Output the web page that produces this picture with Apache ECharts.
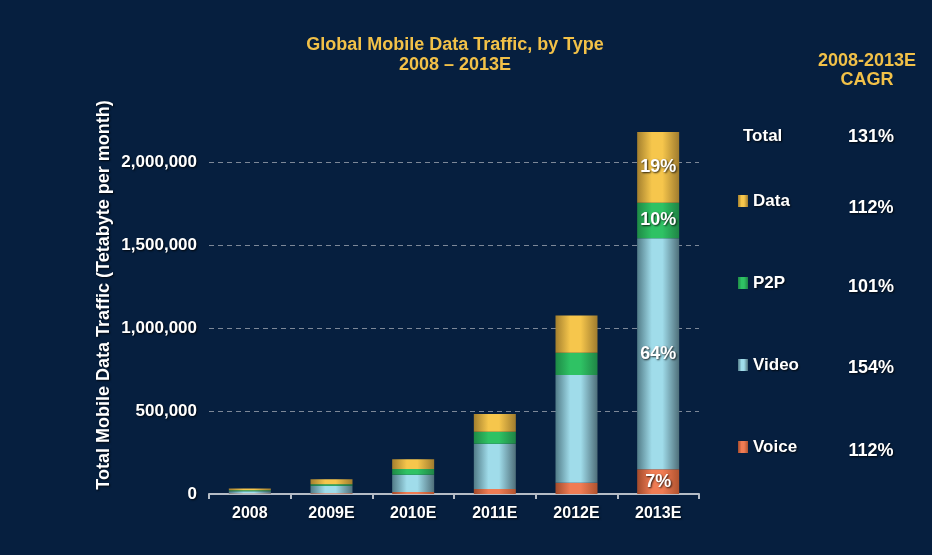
<!DOCTYPE html>
<html><head><meta charset="utf-8">
<script src="https://cdn.jsdelivr.net/npm/echarts@6/dist/echarts.min.js"></script>
<style>html,body{margin:0;padding:0;background:#061f3f;}#c{width:932px;height:555px;}</style>
</head><body><div id="c"></div>
<script>
const categories = ['2008', '2009E', '2010E', '2011E', '2012E', '2013E'];
const voice = [3500, 5000, 12000, 30000, 68000, 149000];
const video = [13000, 44000, 104000, 273000, 649000, 1392000];
const p2p = [6500, 10000, 34000, 72000, 134000, 214000];
const dataT = [10000, 30000, 60000, 107000, 225000, 426000];
const voiceLabels = ['', '', '', '', '', '7%'];
const videoLabels = ['', '', '', '', '', '64%'];
const p2pLabels = ['', '', '', '', '', '10%'];
const dataLabels = ['', '', '', '', '', '19%'];
const yTicks = [0, 500000, 1000000, 1500000, 2000000];
const cagrNames = ['Total', 'Data', 'P2P', 'Video', 'Voice'];
const cagrValues = ['131%', '112%', '101%', '154%', '112%'];

const FONT = '"Liberation Sans", Arial, sans-serif';
const GOLD = '#f2c148';
const SH = {textShadowColor: 'rgba(0,0,0,0.8)', textShadowBlur: 2, textShadowOffsetX: 1, textShadowOffsetY: 1};
function cyl(edgeL, mid, edgeR) {
  return new echarts.graphic.LinearGradient(0, 0, 1, 0, [
    {offset: 0, color: edgeL}, {offset: 0.35, color: mid},
    {offset: 0.6, color: mid}, {offset: 1, color: edgeR}]);
}
const lbl = (arr) => Object.assign({
  show: true, position: 'inside', color: '#fff', fontFamily: FONT, fontWeight: 'bold', fontSize: 18,
  formatter: p => arr[p.dataIndex]
}, SH);
const chart = echarts.init(document.getElementById('c'), null, {renderer: 'canvas'});
const cagrY = [137, 208, 287, 368, 451];
const txt = (x, y, text, fill, size, align, extra) => ({type: 'text', x: x, y: y,
  style: Object.assign({text: text, fill: fill, font: 'bold ' + size + 'px ' + FONT, textAlign: align, textVerticalAlign: 'middle'}, extra || {})});
const graphics = [
  txt(455, 45, 'Global Mobile Data Traffic, by Type', GOLD, 18, 'center'),
  txt(455, 65, '2008 \u2013 2013E', GOLD, 18, 'center'),
  txt(867, 61, '2008-2013E', GOLD, 18, 'center'),
  txt(867, 80, 'CAGR', GOLD, 18, 'center'),
  txt(743, 136, cagrNames[0], '#fff', 17, 'left', SH),
  Object.assign(txt(104, 295, 'Total Mobile Data Traffic (Tetabyte per month)', '#fff', 18, 'center', SH), {rotation: Math.PI / 2})
];
cagrValues.forEach((v, i) => graphics.push(txt(871, cagrY[i], v, '#fff', 18, 'center', SH)));

chart.setOption({
  backgroundColor: '#061f3f',
  animation: false,
  graphic: graphics,
  legend: {
    orient: 'vertical', left: 738, top: 192, padding: 0, itemWidth: 10, itemHeight: 12, itemGap: 64,
    icon: 'rect', data: ['Data', 'P2P', 'Video', 'Voice'],
    textStyle: Object.assign({color: '#fff', fontFamily: FONT, fontWeight: 'bold', fontSize: 17, lineHeight: 18}, SH)
  },
  grid: {left: 209, right: 233, top: 79, bottom: 61, containLabel: false},
  xAxis: {
    type: 'category', data: categories,
    axisLine: {lineStyle: {color: '#b5bcc6', width: 2}},
    axisTick: {show: true, length: 5, lineStyle: {color: '#b5bcc6', width: 2}},
    axisLabel: Object.assign({color: '#fff', fontFamily: FONT, fontWeight: 'bold', fontSize: 16, margin: 12}, SH)
  },
  yAxis: {
    type: 'value', min: 0, max: 2500000, interval: 500000,
    axisLine: {show: false}, axisTick: {show: false},
    axisLabel: Object.assign({color: '#fff', fontFamily: FONT, fontWeight: 'bold', fontSize: 17, margin: 12, showMaxLabel: false,
      formatter: v => yTicks.indexOf(v) >= 0 ? v.toLocaleString('en-US') : ''}, SH),
    splitLine: {show: true, showMinLine: false, showMaxLine: false, lineStyle: {color: '#7d8898', type: [5, 4], width: 1}}
  },
  series: [
    {name: 'Voice', type: 'bar', stack: 't', barWidth: 42, data: voice, label: lbl(voiceLabels),
      itemStyle: {color: cyl('#a34b2c', '#f07c54', '#b0532f')}},
    {name: 'Video', type: 'bar', stack: 't', barWidth: 42, data: video, label: lbl(videoLabels),
      itemStyle: {color: cyl('#527c88', '#a0dcea', '#4f6f7a')}},
    {name: 'P2P', type: 'bar', stack: 't', barWidth: 42, data: p2p, label: lbl(p2pLabels),
      itemStyle: {color: cyl('#1e8a46', '#2fc264', '#1f8445')}},
    {name: 'Data', type: 'bar', stack: 't', barWidth: 42, data: dataT, label: lbl(dataLabels),
      itemStyle: {color: cyl('#a4802e', '#f6c64c', '#a07c2e')}}
  ]
});
</script></body></html>
